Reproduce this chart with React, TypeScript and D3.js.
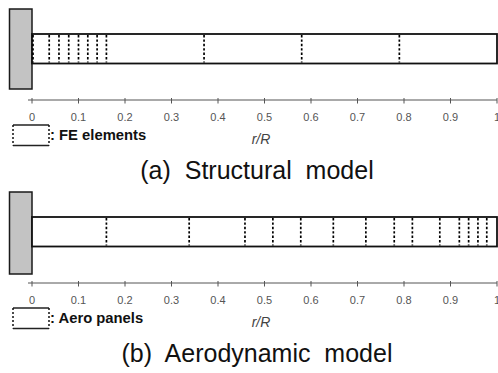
import React from "react";
import * as d3 from "d3";

// element / panel boundaries along the blade, in r/R
const feBoundaries = [0, 0.037, 0.058, 0.079, 0.1, 0.12, 0.14, 0.16, 0.37, 0.58, 0.79];
const aeroBoundaries = [0.16, 0.338, 0.458, 0.518, 0.578, 0.648, 0.718, 0.779, 0.818, 0.877, 0.919, 0.939, 0.959, 0.978];
const axisTicks = [0, 0.1, 0.2, 0.3, 0.4, 0.5, 0.6, 0.7, 0.8, 0.9, 1];
const bladeSpan = [0, 1];

const W = 498;
const H = 373;
const x = d3.scaleLinear().domain([0, 1]).range([32, 497]);
const fmt = d3.format("~g");

interface PanelProps {
	top: number;
	boundaries: number[];
	legend: string;
	title: string;
	hubH: number;
}

const Panel: React.FC<PanelProps> = ({top, boundaries, legend, title, hubH}) => {
	const beamTop = top + 25;
	const beamBot = top + 54.5;
	const axisY = top + 91;
	return (
		<g>
			{/* hub */}
			<rect x={9.5} y={top} width={22.5} height={hubH} fill="#c3c3c3" stroke="#1a1a1a" strokeWidth={1.5} />
			{/* beam */}
			<rect
				x={x(bladeSpan[0])}
				y={beamTop}
				width={x(bladeSpan[1]) - x(bladeSpan[0])}
				height={beamBot - beamTop}
				fill="white"
				stroke="#111"
				strokeWidth={1.8}
			/>
			{boundaries.map((b, i) => (
				<line
					key={i}
					x1={x(b) + (b === 0 ? 1 : 0)}
					x2={x(b) + (b === 0 ? 1 : 0)}
					y1={beamTop + 1}
					y2={beamBot - 1}
					stroke="#000"
					strokeWidth={1.7}
					strokeDasharray="2.4,2"
				/>
			))}
			{/* axis */}
			<line x1={28} x2={x(1)} y1={axisY} y2={axisY} stroke="#555" strokeWidth={1} />
			{axisTicks.map((t) => (
				<g key={t}>
					<line x1={x(t)} x2={x(t)} y1={axisY - 2} y2={axisY + 3.5} stroke="#555" strokeWidth={1} />
					<text
						x={x(t)}
						y={axisY + 20.5}
						textAnchor="middle"
						fontFamily="Liberation Sans, Arial, sans-serif"
						fontSize={11}
						fill="#555"
					>
						{fmt(t)}
					</text>
				</g>
			))}
			<text
				x={261}
				y={axisY + 44}
				textAnchor="middle"
				fontFamily="Liberation Sans, Arial, sans-serif"
				fontStyle="italic"
				fontSize={14}
				fill="#444"
			>
				r/R
			</text>
			{/* legend */}
			<line x1={13} x2={49} y1={top + 116} y2={top + 116} stroke="#222" strokeWidth={1.4} />
			<line x1={13} x2={49} y1={top + 136.5} y2={top + 136.5} stroke="#222" strokeWidth={1.4} />
			<line x1={13} x2={13} y1={top + 116} y2={top + 136.5} stroke="#111" strokeWidth={1.5} strokeDasharray="2,2" />
			<line x1={49} x2={49} y1={top + 116} y2={top + 136.5} stroke="#111" strokeWidth={1.5} strokeDasharray="2,2" />
			<text
				x={50}
				y={top + 131}
				fontFamily="Liberation Sans, Arial, sans-serif"
				fontWeight="bold"
				fontSize={14.8}
				fill="#111"
			>
				{legend}
			</text>
			{/* caption */}
			<text
				x={W / 2 + 8}
				y={top + 170}
				textAnchor="middle"
				fontFamily="Liberation Sans, Arial, sans-serif"
				fontSize={25}
				fill="#111"
				style={{whiteSpace: "pre"}}
			>
				{title}
			</text>
		</g>
	);
};

export default function App() {
	return (
		<svg width={W} height={H} style={{position: "absolute", left: 0, top: 0, background: "white"}}>
			<Panel top={9} boundaries={feBoundaries} legend=": FE elements" title="(a)  Structural  model" hubH={80} />
			<Panel top={192} boundaries={aeroBoundaries} legend=": Aero panels" title="(b)  Aerodynamic  model" hubH={82} />
		</svg>
	);
}
